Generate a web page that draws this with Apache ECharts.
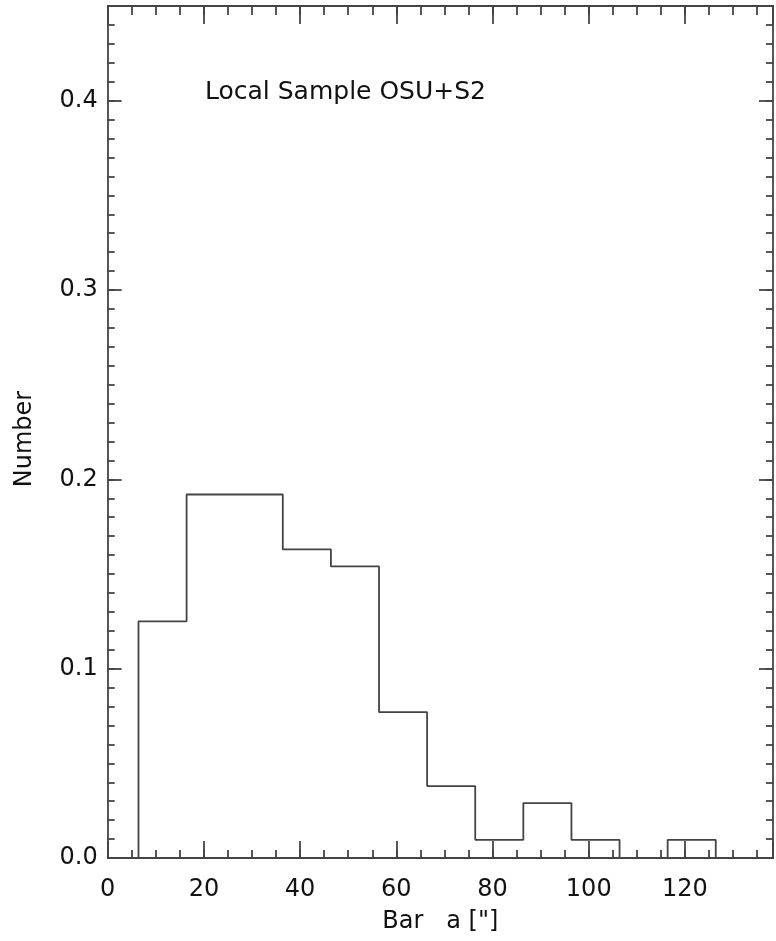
<!DOCTYPE html>
<html>
<head>
<meta charset="utf-8">
<script src="https://cdn.jsdelivr.net/npm/echarts@6/dist/echarts.min.js"></script>
<style>html,body{margin:0;padding:0;background:#fff}#c{width:776px;height:941px}</style>
</head>
<body>
<div id="c"></div>
<script>
// Histogram bin edges (left edges) and fractional counts
var binLeft = [6.4, 16.4, 26.4, 36.4, 46.4, 56.4, 66.4, 76.4, 86.4, 96.4, 106.4, 116.4];
var binWidth = 10;
var values = [0.125, 0.192, 0.192, 0.163, 0.154, 0.077, 0.038, 0.0096, 0.029, 0.0096, 0, 0.0096];
var xTicks = [0, 20, 40, 60, 80, 100, 120];
var yTicks = [0.0, 0.1, 0.2, 0.3, 0.4];
var annotation = 'Local Sample OSU+S2';
var xTitle = 'Bar   a ["]';
var yTitle = 'Number';

var XMAX = 138.3, YMAX = 0.45;
var FONT = 'DejaVu Sans';
var INK = '#444444';
var LW = 1.8;

// step outline from the arrays
var pts = [[binLeft[0], 0]];
for (var i = 0; i < values.length; i++) {
  pts.push([binLeft[i], values[i]]);
  pts.push([binLeft[i] + binWidth, values[i]]);
}
pts.push([binLeft[binLeft.length - 1] + binWidth, 0]);

function isTick(v, list) {
  for (var k = 0; k < list.length; k++) if (Math.abs(v - list[k]) < 1e-6) return true;
  return false;
}

function xAx(pos, len, interval, labels, line) {
  return {
    type: 'value', position: pos, min: 0, max: XMAX, interval: interval,
    axisLine: {show: line, onZero: false, lineStyle: {color: INK, width: LW}},
    axisTick: {show: true, inside: true, length: len, lineStyle: {color: INK, width: LW}},
    splitLine: {show: false},
    axisLabel: labels ? {
      show: true, margin: 20, color: '#111', fontFamily: FONT, fontSize: 24,
      formatter: function (v) { return isTick(v, xTicks) ? String(Math.round(v)) : ''; }
    } : {show: false}
  };
}
function yAx(pos, len, interval, labels, line) {
  return {
    type: 'value', position: pos, min: 0, max: YMAX, interval: interval,
    axisLine: {show: line, onZero: false, lineStyle: {color: INK, width: LW}},
    axisTick: {show: true, inside: true, length: len, lineStyle: {color: INK, width: LW}},
    splitLine: {show: false},
    axisLabel: labels ? {
      show: true, margin: 10, color: '#111', fontFamily: FONT, fontSize: 24,
      formatter: function (v) { return isTick(v, yTicks) ? v.toFixed(1) : ''; }
    } : {show: false}
  };
}

var xa0 = xAx('bottom', 17, 20, true, true);
xa0.name = xTitle; xa0.nameLocation = 'middle'; xa0.nameGap = 52;
xa0.nameTextStyle = {color: '#111', fontFamily: FONT, fontSize: 24};
var ya0 = yAx('left', 14, 0.1, true, true);

var chart = echarts.init(document.getElementById('c'), null, {renderer: 'canvas'});
chart.setOption({
  animation: false,
  backgroundColor: '#fff',
  grid: {left: 107.7, right: 1, top: 6, bottom: 83, containLabel: false},
  xAxis: [xa0, xAx('bottom', 8, 5, false, false), xAx('top', 18, 20, false, true), xAx('top', 9, 5, false, false)],
  yAxis: [ya0, yAx('left', 7, 0.01, false, false), yAx('right', 14, 0.1, false, true), yAx('right', 7, 0.01, false, false)],
  graphic: [{
    type: 'text', left: 205, top: 80,
    style: {text: annotation, fontFamily: FONT, fontSize: 25, fill: '#111'}
  }, {
    type: 'text', x: 25, y: 439, rotation: Math.PI / 2,
    style: {text: yTitle, fontFamily: FONT, fontSize: 24, fill: '#111', align: 'center', verticalAlign: 'middle'}
  }],
  series: [{
    type: 'line', xAxisIndex: 0, yAxisIndex: 0, data: pts,
    showSymbol: false, symbol: 'none',
    lineStyle: {color: INK, width: LW}
  }]
});
</script>
</body>
</html>
